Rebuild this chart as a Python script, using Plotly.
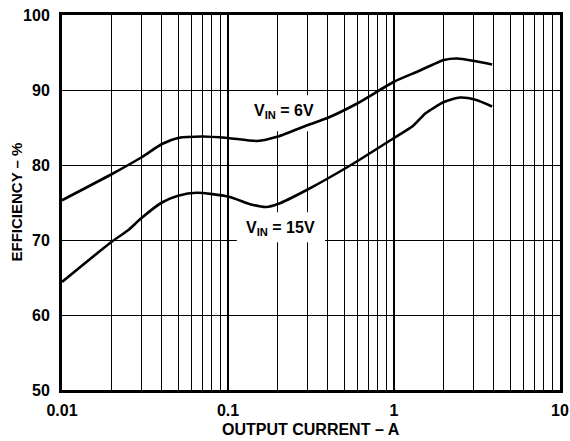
import math
import plotly.graph_objects as go

# Output current (A) and efficiency (%)
x_6v = [0.01, 0.02, 0.03, 0.04, 0.05, 0.07, 0.1, 0.15, 0.2, 0.3, 0.4, 0.6, 1.0, 1.4, 2.0, 2.4, 3.0, 3.9]
y_6v = [75.3, 78.8, 81.0, 82.8, 83.6, 83.8, 83.6, 83.2, 83.8, 85.3, 86.3, 88.2, 91.1, 92.5, 94.0, 94.2, 93.9, 93.4]

x_15v = [0.01, 0.02, 0.025, 0.03, 0.04, 0.05, 0.065, 0.1, 0.14, 0.17, 0.2, 0.3, 0.57, 1.0, 1.3, 1.55, 2.0, 2.5, 3.1, 3.9]
y_15v = [64.4, 69.8, 71.3, 72.9, 75.0, 75.9, 76.3, 75.8, 74.7, 74.4, 74.8, 76.7, 80.2, 83.6, 85.2, 86.9, 88.4, 89.0, 88.7, 87.8]

x_ticks = [0.01, 0.1, 1, 10]
x_tick_labels = ["0.01", "0.1", "1", "10"]
y_ticks = [50, 60, 70, 80, 90, 100]
y_tick_labels = ["50", "60", "70", "80", "90", "100"]

x_title = "OUTPUT CURRENT – A"
y_title = "EFFICIENCY – %"
label_6v = "V<sub>IN</sub> = 6V"
label_15v = "V<sub>IN</sub> = 15V"
label_6v_pos = (0.217, 87.1)
label_15v_pos = (0.207, 71.5)
# white label backgrounds in data units (x0, x1, y0, y1)
label_6v_box = (0.112, 0.384, 84.5, 89.3)
label_15v_box = (0.113, 0.384, 69.7, 73.7)

FONT = "Liberation Sans, Arial, Helvetica, sans-serif"
BOLD16 = dict(family=FONT, size=16, color="black", weight="bold")

fig = go.Figure()
for xs, ys in [(x_6v, y_6v), (x_15v, y_15v)]:
    fig.add_trace(go.Scatter(x=xs, y=ys, mode="lines",
                             line=dict(color="black", width=2.6, shape="spline", smoothing=0.6),
                             showlegend=False, hoverinfo="skip"))

for (x0, x1, y0, y1) in [label_6v_box, label_15v_box]:
    fig.add_shape(type="rect", xref="x", yref="y", x0=x0, x1=x1, y0=y0, y1=y1,
                  fillcolor="white", line=dict(width=0), layer="between")

for txt, (ax, ay) in [(label_6v, label_6v_pos), (label_15v, label_15v_pos)]:
    fig.add_annotation(x=math.log10(ax), y=ay, xref="x", yref="y", text=txt, showarrow=False,
                       font=BOLD16)

fig.add_annotation(x=0.5, y=0, xref="paper", yref="paper", text=x_title, showarrow=False,
                   yanchor="middle", yshift=-39, font=BOLD16)
fig.add_annotation(x=0, y=0.5, xref="paper", yref="paper", text=y_title, showarrow=False,
                   xanchor="center", xshift=-46, textangle=-90,
                   font=dict(family=FONT, size=15, color="black", weight="bold"))

fig.update_xaxes(type="log", range=[-2, 1], tickvals=x_ticks, ticktext=x_tick_labels,
                 showgrid=True, gridcolor="black", gridwidth=2,
                 minor=dict(showgrid=True, dtick="D1", gridcolor="black", gridwidth=1, ticks=""),
                 showline=True, linecolor="black", linewidth=3, mirror=True,
                 ticks="", ticklabelstandoff=4, zeroline=False, automargin=False,
                 tickfont=BOLD16)
fig.update_yaxes(range=[50, 100], tickvals=y_ticks, ticktext=y_tick_labels,
                 showgrid=True, gridcolor="black", gridwidth=1,
                 showline=True, linecolor="black", linewidth=3, mirror=True,
                 ticks="", ticklabelstandoff=6, zeroline=False, automargin=False,
                 tickfont=BOLD16)

fig.update_layout(width=570, height=441, margin=dict(l=62, r=10, t=15, b=51),
                  paper_bgcolor="white", plot_bgcolor="white",
                  font=dict(family=FONT, color="black"))

fig.write_html("out.html", config={"displayModeBar": False},
               post_script="document.body.style.margin='0';")
